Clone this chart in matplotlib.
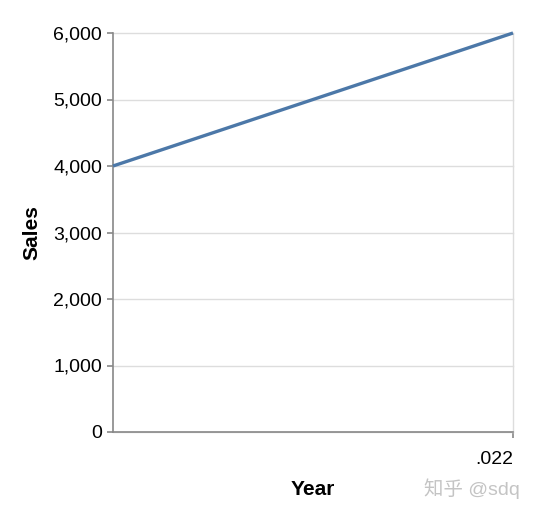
import matplotlib
matplotlib.use("Agg")
import matplotlib.pyplot as plt

years = [2021, 2022]
sales = [4000, 6000]
y_ticks = [0, 1000, 2000, 3000, 4000, 5000, 6000]
y_labels = ["0", "1,000", "2,000", "3,000", "4,000", "5,000", "6,000"]
x_ticks = [2022]
x_labels = [".022"]

plt.rcParams['font.family'] = ['Liberation Sans', 'Noto Sans CJK SC', 'DejaVu Sans']

W, H = 536, 512
fig = plt.figure(figsize=(W / 100, H / 100), dpi=100)
ax = fig.add_axes([113 / W, 1 - 432 / H, 400 / W, 399 / H])

ax.plot(years, sales, color="#4c78a8", linewidth=2.4, solid_capstyle="butt", zorder=3, clip_on=False)

ax.set_xlim(2021, 2022)
ax.set_ylim(0, 6000)
ax.set_yticks(y_ticks)
ax.set_yticklabels(y_labels)
ax.set_xticks(x_ticks)
ax.set_xticklabels(x_labels, ha="right")

ax.grid(True, color="#dddddd", linewidth=1.0, zorder=0)
for gl in ax.get_xgridlines() + ax.get_ygridlines():
    gl.set_clip_on(False)
ax.set_axisbelow(True)
for s in ["top", "right"]:
    ax.spines[s].set_visible(False)
for s in ["left", "bottom"]:
    ax.spines[s].set_color("#888888")
    ax.spines[s].set_linewidth(1.2)
    ax.spines[s].set_zorder(2)

ax.tick_params(axis="both", colors="#888888", length=4, width=1.2, labelcolor="black", labelsize=14)
ax.tick_params(axis="y", pad=4)
ax.tick_params(axis="x", pad=10)

ax.set_ylabel("Sales", fontsize=15, fontweight="bold", labelpad=8)
ax.set_xlabel("Year", fontsize=15, fontweight="bold", labelpad=8)

fig.text(520 / W, 1 - 489 / H, "知乎 @sdq", ha="right", va="center", fontsize=14, color="#c4c4c4")

fig.savefig("out.png", dpi=100)
